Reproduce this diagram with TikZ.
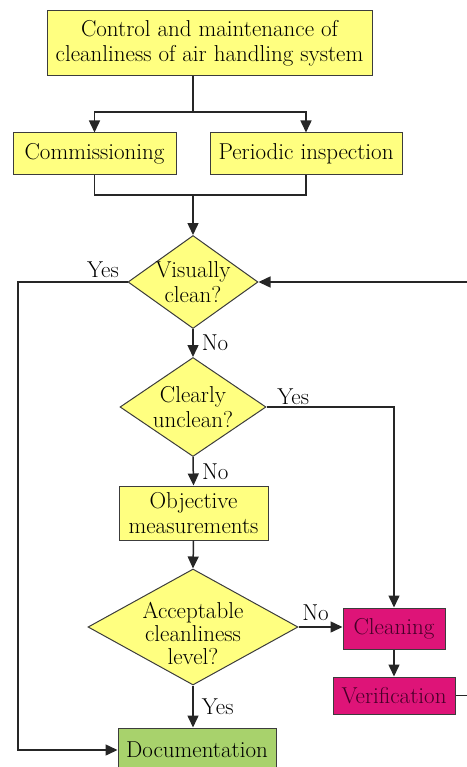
\documentclass[tikz,border=0pt]{standalone}
\usepackage{tikz}
\usetikzlibrary{shapes,arrows.meta,positioning,calc}
\definecolor{boxyellow}{RGB}{255,255,128}
\definecolor{boxmagenta}{RGB}{222,20,120}
\definecolor{boxgreen}{RGB}{168,210,108}
\definecolor{edgegray}{RGB}{60,60,60}
\definecolor{inkpurple}{RGB}{70,0,40}

\begin{document}
\begin{tikzpicture}[x=1pt, y=-1pt,
        every node/.style={font=\fontsize{23}{25}\selectfont},
        block/.style={draw=edgegray, line width=1pt, fill=boxyellow, inner sep=0pt, align=center},
        decision/.style={diamond, draw=edgegray, line width=1pt, fill=boxyellow, inner sep=0pt},
        flow/.style={line width=1.5pt, draw=black!85, -{Triangle[length=12pt,width=11pt]}},
        joint/.style={line width=1.5pt, draw=black!85},
        answer/.style={inner sep=2pt}]
        \useasboundingbox (0,0) rectangle (466,767);
        \node[block, minimum width=325pt, minimum height=65pt] (top) at (209.5,43.5) {Control and maintenance of\\cleanliness of air handling system};
        \node[block, minimum width=163pt, minimum height=42pt] (comm) at (94.5,154) {Commissioning};
        \node[block, minimum width=192pt, minimum height=42pt] (peri) at (306,154) {Periodic inspection};
        \node[decision, minimum width=130pt, minimum height=93pt, label={[name=visT, align=center]center:Visually\\clean?}] (vis) at (193,282) {};
        \node[decision, minimum width=146pt, minimum height=99pt, label={[name=clearT, align=center]center:Clearly\\unclean?}] (clear) at (193,407) {};
        \node[block, minimum width=149pt, minimum height=54pt] (obj) at (193.5,513) {Objective\\measurements};
        \node[decision, minimum width=210pt, minimum height=116pt, label={[name=accT, align=center, font=\fontsize{23}{23}\selectfont, yshift=-6pt]center:Acceptable\\cleanliness\\level?}] (acc) at (193,627) {};
        \node[block, fill=boxmagenta, text=inkpurple, minimum width=102pt, minimum height=41pt] (clean) at (394,628.5) {Cleaning};
        \node[block, fill=boxmagenta, text=inkpurple, minimum width=122pt, minimum height=37pt] (verif) at (394,695.5) {Verification};
        \node[block, fill=boxgreen, minimum width=158pt, minimum height=44pt] (doc) at (197,750) {Documentation};
        % bends of the connectors
        \coordinate (split) at (193,112);
        \coordinate (merge) at (193,195);
        \coordinate (rail) at (18,500);
        \coordinate (loop) at (480,500);
        \draw[joint] (top.south -| split) -- (split);
        \draw[flow] (split) -| (comm.north);
        \draw[flow] (split) -| (peri.north);
        \draw[joint] (comm.south) |- (merge) -| (peri.south);
        \draw[flow] (merge) -- (vis.north);
        \draw[flow] (vis.west) node[answer, above left, xshift=-6pt, yshift=2pt] (visYes) {Yes} -| (rail) |- (doc.west);
        \draw[flow] (vis.south) -- node[answer, right=6pt] (visNo) {No} (clear.north);
        \draw[flow] (clear.east) node[answer, above right, xshift=8pt] (clearYes) {Yes} -| (clean.north);
        \draw[flow] (clear.south) -- node[answer, right=6pt] (clearNo) {No} (obj.north);
        \draw[flow] (obj.south) -- (acc.north);
        \draw[flow] (acc.east) -- node[answer, above=4pt, xshift=-5pt] (accNo) {No} (acc.east -| clean.west);
        \draw[flow] (clean.south) -- (verif.north);
        \draw[flow] (verif.east) -| (loop) |- (vis.east);
        \draw[flow] (acc.south) -- node[answer, right=6pt] (accYes) {Yes} (acc.south |- doc.north);
    \end{tikzpicture}
\end{document}
